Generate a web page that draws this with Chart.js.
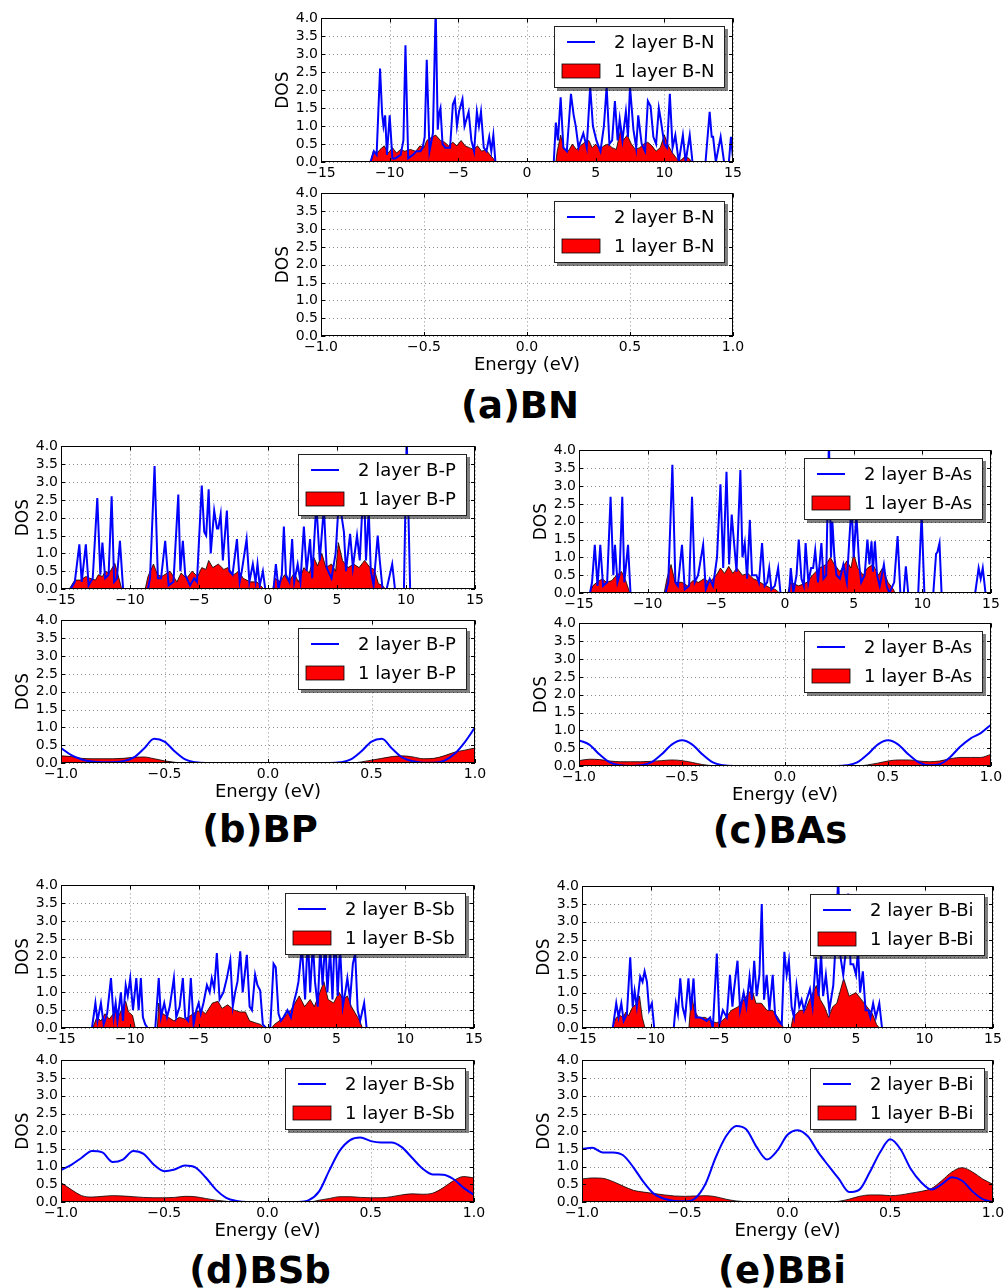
<!DOCTYPE html>
<html>
<head>
<meta charset="utf-8">
<script src="https://cdn.jsdelivr.net/npm/chart.js@4.4.0/dist/chart.umd.min.js"></script>
<style>
  body { margin: 0; background: #fff; width: 1007px; height: 1288px; position: relative; overflow: hidden; font-family: 'DejaVu Sans', sans-serif; }
  .panel { position: absolute; }
  .tag { position: absolute; font-weight: bold; font-size: 37px; line-height: 1; transform: translate(-50%, -50%); white-space: nowrap; }
</style>
</head>
<body>
<div class="tag" style="left:520px; top:405px;">(a)BN</div>
<div class="tag" style="left:260px; top:829px;">(b)BP</div>
<div class="tag" style="left:780px; top:830px;">(c)BAs</div>
<div class="tag" style="left:260px; top:1270px;">(d)BSb</div>
<div class="tag" style="left:782px; top:1270px;">(e)BBi</div>
<script>
'use strict';

/******************** */
// wide energy window (-15 .. 15 eV)

const bn2E = [-15, -11.4, -11.15, -10.95, -10.7, -10.55, -10.45, -10.33, -10.2, -10.0,
    -9.8, -9.6, -9.2, -9.0, -8.85, -8.65, -8.3, -8.05, -7.75, -7.6,
    -7.45, -7.3, -7.1, -6.85, -6.65, -6.5, -6.4, -6.3, -6.15, -5.95,
    -5.6, -5.4, -5.25, -5.1, -4.95, -4.7, -4.55, -4.4, -4.25, -4.05,
    -3.85, -3.65, -3.5, -3.35, -3.15, -2.95, -2.75, -2.6, -2.45, -2.3,
    1.95, 2.1, 2.25, 2.45, 2.65, 2.9, 3.2, 3.4, 3.55, 3.75,
    4.1, 4.35, 4.6, 4.8, 5.05, 5.35, 5.6, 5.8, 6.0, 6.2,
    6.4, 6.6, 6.75, 6.95, 7.2, 7.35, 7.5, 7.75, 7.95, 8.1,
    8.35, 8.6, 8.8, 9.0, 9.2, 9.4, 9.6, 9.75, 10.0, 10.2,
    10.4, 10.6, 10.8, 11.05, 11.35, 11.55, 11.85, 12.05, 13.0, 13.3,
    13.45, 13.55, 13.75, 14.1, 14.35, 14.7, 14.85, 15];
const bn2Dos = [0, 0, 0.3, 0.2, 2.6, 1.35, 1.0, 1.3, 0.2, 1.3,
    0.1, 0.1, 0.2, 0.6, 3.25, 0.1, 0.2, 0.3, 0.3, 0.4,
    0.7, 2.85, 0.3, 0.8, 4.3, 0.9, 1.35, 1.5, 0.5, 0.4,
    0.4, 1.6, 1.75, 1.0, 1.4, 1.75, 1.0, 1.2, 1.4, 0.6,
    0.3, 1.4, 1.0, 1.4, 0.4, 0.3, 0.7, 0.3, 0.75, 0,
    0, 1.1, 0.6, 1.8, 0.4, 0.3, 1.9, 1.3, 1.0, 0.4,
    0.8, 0.4, 2.1, 1.0, 0.6, 0.3, 1.0, 2.1, 0.5, 0.6,
    1.7, 0.6, 1.2, 0.6, 1.4, 0.7, 2.1, 0.9, 0.4, 1.3,
    0.5, 0.3, 1.7, 1.55, 0.7, 0.5, 1.5, 1.15, 0.5, 0.4,
    1.9, 0.4, 0.75, 0, 0.75, 0, 0.75, 0, 0, 1.4,
    0.7, 0.7, 0, 0.7, 0, 0, 0.7, 0.1];
const bn1E = [-15, -11.35, -11.2, -10.9, -10.7, -10.4, -10.1, -9.8, -9.5, -9.2,
    -8.9, -8.5, -8.1, -7.8, -7.5, -7.3, -6.9, -6.65, -6.3, -6.0,
    -5.7, -5.4, -5.1, -4.8, -4.5, -4.2, -3.9, -3.6, -3.3, -3.0,
    -2.7, -2.45, -2.3, 2.1, 2.2, 2.45, 2.7, 3.0, 3.3, 3.6,
    3.9, 4.2, 4.5, 4.75, 5.0, 5.3, 5.6, 5.9, 6.2, 6.5,
    6.85, 7.0, 7.3, 7.6, 7.9, 8.2, 8.5, 8.8, 9.1, 9.4,
    9.7, 10.0, 10.3, 10.6, 10.9, 11.2, 11.5, 11.8, 12.0, 15];
const bn1Dos = [0, 0, 0.3, 0.25, 0.35, 0.45, 0.25, 0.4, 0.25, 0.35,
    0.3, 0.35, 0.3, 0.45, 0.4, 0.6, 0.7, 0.75, 0.6, 0.55,
    0.45, 0.55, 0.45, 0.6, 0.45, 0.4, 0.35, 0.45, 0.3, 0.35,
    0.2, 0.1, 0, 0, 0.3, 0.75, 0.35, 0.3, 0.5, 0.35,
    0.45, 0.55, 0.6, 0.4, 0.5, 0.35, 0.45, 0.5, 0.4, 0.35,
    0.95, 0.6, 0.75, 0.5, 0.35, 0.4, 0.5, 0.55, 0.45, 0.3,
    0.4, 0.75, 0.45, 0.25, 0.1, 0.05, 0.15, 0.1, 0, 0];

const bp2E = [-15, -14.3, -14.0, -13.67, -13.5, -13.2, -13.0, -12.7, -12.37, -12.15,
    -12.0, -11.8, -11.55, -11.33, -11.15, -10.95, -10.73, -10.5, -8.7, -8.55,
    -8.22, -7.98, -7.75, -7.45, -7.2, -6.85, -6.5, -6.35, -6.17, -6.0,
    -5.65, -5.35, -5.15, -4.8, -4.62, -4.48, -4.3, -4.15, -3.9, -3.7,
    -3.6, -3.43, -3.27, -2.98, -2.8, -2.57, -2.25, -2.05, -1.9, -1.55,
    -1.35, -1.1, -0.9, -0.76, -0.6, -0.37, -0.2, 0.4, 0.57, 0.76,
    1.0, 1.15, 1.3, 1.55, 1.75, 1.9, 2.15, 2.35, 2.6, 2.8,
    3.05, 3.2, 3.5, 3.75, 4.05, 4.25, 4.6, 4.9, 5.15, 5.35,
    5.5, 5.65, 5.95, 6.15, 6.45, 6.65, 6.8, 7.0, 7.1, 7.3,
    7.45, 7.65, 7.95, 8.1, 8.3, 8.6, 9.0, 9.2, 9.85, 10.05,
    10.3, 15];
const bp2Dos = [0, 0, 0.2, 1.25, 0.2, 1.25, 0.1, 0.3, 2.55, 0.4,
    1.3, 0.3, 0.4, 2.6, 0.2, 0.3, 1.35, 0, 0, 0.3,
    3.45, 0.3, 0.3, 1.35, 0.1, 0.2, 2.65, 0.5, 1.35, 0.4,
    0.1, 0.3, 0.2, 2.9, 1.6, 1.5, 2.8, 1.0, 2.2, 1.7,
    1.7, 2.1, 0.8, 2.2, 0.5, 0.4, 1.4, 0.2, 0.5, 1.4,
    0.2, 0.7, 0.2, 0.7, 0.1, 0.5, 0, 0, 0.7, 0,
    0.4, 1.75, 0.4, 0.2, 1.4, 0.2, 0.7, 0.2, 1.75, 0.5,
    1.4, 0.3, 2.4, 0.8, 2.3, 0.6, 0.3, 1.0, 2.6, 2.0,
    1.6, 0.5, 1.55, 0.6, 1.5, 0.8, 2.0, 2.3, 0.8, 2.2,
    0.5, 0.1, 1.5, 0.8, 0, 0, 0.7, 0, 0, 4.3,
    0, 0];
const bp1E = [-15, -14.4, -14.0, -13.6, -13.2, -12.9, -12.5, -12.3, -12.0, -11.8,
    -11.5, -11.1, -10.8, -10.6, -8.9, -8.7, -8.3, -8.0, -7.7, -7.1,
    -6.6, -6.3, -5.9, -5.5, -5.1, -4.8, -4.5, -4.3, -4.0, -3.6,
    -3.2, -2.9, -2.5, -2.1, -1.8, -1.3, -0.8, -0.3, 0.35, 0.5,
    0.9, 1.2, 1.5, 1.9, 2.2, 2.6, 3.0, 3.3, 3.6, 3.9,
    4.2, 4.6, 4.9, 5.1, 5.4, 5.8, 6.2, 6.6, 7.0, 7.4,
    7.7, 8.0, 8.3, 8.5, 15];
const bp1Dos = [0, 0, 0.25, 0.25, 0.35, 0.3, 0.25, 0.4, 0.35, 0.5,
    0.45, 0.72, 0.3, 0, 0, 0.35, 0.7, 0.4, 0.35, 0.5,
    0.2, 0.45, 0.3, 0.5, 0.35, 0.6, 0.55, 0.8, 0.6, 0.7,
    0.55, 0.6, 0.4, 0.5, 0.3, 0.2, 0.2, 0, 0, 0.3,
    0.2, 0.4, 0.2, 0.45, 0.2, 0.6, 0.45, 0.9, 0.65, 1.0,
    0.6, 0.7, 0.5, 1.3, 0.8, 0.6, 0.7, 0.6, 0.8, 0.6,
    0.55, 0.15, 0.1, 0, 0];

const bas2E = [-15, -14.2, -14.05, -13.85, -13.65, -13.45, -13.25, -12.95, -12.7, -12.5,
    -12.38, -12.2, -12.05, -11.85, -11.7, -11.43, -11.25, -8.7, -8.5, -8.2,
    -7.98, -7.8, -7.5, -7.3, -6.98, -6.77, -6.57, -6.33, -5.96, -5.77,
    -5.48, -5.24, -4.95, -4.7, -4.5, -4.26, -4.07, -3.88, -3.73, -3.53,
    -3.25, -3.1, -2.93, -2.76, -2.56, -2.4, -2.08, -1.9, -1.67, -1.48,
    -1.3, -1.15, -0.99, -0.74, -0.5, -0.33, 0.3, 0.42, 0.6, 0.84,
    1.0, 1.2, 1.37, 1.5, 1.7, 1.9, 2.05, 2.2, 2.4, 2.65,
    2.8, 3.0, 3.2, 3.35, 3.45, 3.6, 3.75, 4.0, 4.25, 4.5,
    4.7, 4.85, 5.0, 5.2, 5.4, 5.55, 5.8, 6.0, 6.15, 6.3,
    6.4, 6.55, 6.7, 6.9, 7.2, 7.4, 7.6, 7.95, 8.2, 8.4,
    8.65, 8.8, 8.97, 9.7, 9.95, 10.15, 10.8, 11.0, 11.1, 11.25,
    11.4, 13.85, 14.1, 14.25, 14.4, 14.6, 15];
const bas2Dos = [0, 0, 0.3, 1.35, 0.2, 1.35, 0.2, 0.3, 2.7, 0.5,
    1.35, 0.3, 0.5, 2.7, 0.3, 1.35, 0, 0, 0.3, 3.6,
    0.3, 0.2, 1.35, 0.1, 0.2, 2.7, 0.3, 0.5, 1.35, 0.1,
    0.4, 0.2, 1.0, 3.05, 0.7, 3.4, 0.8, 2.2, 1.5, 0.6,
    3.45, 1.0, 1.4, 0.4, 2.05, 0.5, 0.5, 0.3, 1.4, 0.2,
    0.3, 0.7, 0.1, 0.2, 0.7, 0, 0, 0.7, 0, 0.5,
    1.5, 0.4, 0.2, 1.4, 0.3, 0.7, 0.7, 1.2, 0.3, 1.4,
    0.4, 0.5, 4.3, 1.0, 2.0, 1.0, 0.5, 0.4, 0.8, 0.3,
    1.6, 2.5, 1.0, 2.2, 0.8, 0.3, 0.5, 1.5, 0.8, 1.45,
    0.6, 1.45, 0.5, 0.2, 0.8, 0.2, 0, 0.3, 1.6, 0,
    0, 0.75, 0, 0, 2.2, 0, 0, 1.1, 1.15, 1.4,
    0, 0, 0.7, 0.4, 0.7, 0, 0];
const bas1E = [-15, -14.2, -14.0, -13.7, -13.3, -13.0, -12.6, -12.4, -11.9, -11.6,
    -11.3, -8.8, -8.6, -8.3, -8.0, -7.5, -7.1, -6.7, -6.3, -5.9,
    -5.5, -5.0, -4.7, -4.4, -4.1, -3.8, -3.5, -3.1, -2.7, -2.3,
    -2.0, -1.6, -1.1, -0.7, -0.4, 0.2, 0.4, 1.0, 1.6, 2.0,
    2.5, 3.0, 3.3, 3.6, 4.0, 4.5, 4.8, 5.0, 5.3, 5.7,
    6.0, 6.4, 6.8, 7.1, 7.5, 7.9, 8.0, 15];
const bas1Dos = [0, 0, 0.2, 0.3, 0.4, 0.3, 0.35, 0.45, 0.6, 0.35,
    0, 0, 0.4, 0.8, 0.3, 0.3, 0.2, 0.35, 0.3, 0.4,
    0.3, 0.5, 0.7, 0.55, 0.75, 0.55, 0.7, 0.5, 0.55, 0.4,
    0.35, 0.25, 0.15, 0.1, 0, 0, 0.3, 0.2, 0.3, 0.5,
    0.7, 0.8, 1.0, 0.8, 0.6, 0.9, 0.7, 1.1, 0.7, 0.5,
    0.7, 0.8, 0.5, 0.7, 0.3, 0.1, 0, 0];

const bsb2E = [-15, -12.75, -12.5, -12.35, -12.1, -11.9, -11.65, -11.37, -11.18, -11.03,
    -10.9, -10.65, -10.5, -10.3, -10.15, -9.97, -9.77, -9.53, -9.36, -9.2,
    -9.05, -8.88, -8.7, -8.15, -7.9, -7.74, -7.5, -7.3, -7.1, -6.8,
    -6.63, -6.38, -6.15, -5.98, -5.76, -5.57, -5.37, -5.17, -5.0, -4.85,
    -4.65, -4.4, -4.2, -4.05, -3.87, -3.68, -3.48, -3.2, -2.95, -2.7,
    -2.52, -2.35, -2.18, -1.98, -1.8, -1.5, -1.3, -1.13, -0.9, -0.73,
    -0.53, -0.34, -0.1, 0.2, 0.44, 0.6, 0.8, 0.97, 1.16, 1.45,
    1.7, 1.9, 2.1, 2.25, 2.5, 2.73, 2.93, 3.1, 3.3, 3.45,
    3.65, 3.83, 4.0, 4.2, 4.35, 4.55, 4.72, 4.9, 5.1, 5.27,
    5.47, 5.65, 5.8, 6.0, 6.2, 6.37, 6.55, 6.73, 7.02, 7.2,
    15];
const bsb2Dos = [0, 0, 0.7, 0.2, 0.7, 0.1, 0.4, 1.4, 0.3, 0.7,
    0.2, 1.0, 0.2, 1.2, 0.9, 1.4, 0.5, 1.4, 0.5, 1.4,
    0.3, 0.1, 0, 0, 1.4, 0.3, 0.7, 0.3, 0.6, 1.4,
    0.3, 0.6, 1.4, 0.3, 0.2, 1.4, 0.1, 0.5, 0.7, 0.4,
    0.7, 1.2, 1.0, 1.4, 1.1, 2.1, 0.8, 1.0, 1.4, 1.9,
    0.6, 1.0, 1.3, 2.15, 1.0, 2.05, 0.6, 0.5, 1.5, 1.2,
    1.05, 0.1, 0, 0, 1.8, 1.7, 0.4, 0.2, 0.3, 0.5,
    0.3, 0.7, 1.0, 1.3, 2.3, 0.8, 2.6, 1.0, 2.4, 1.3,
    0.6, 2.3, 1.2, 2.5, 1.0, 2.2, 0.8, 2.8, 0.9, 2.3,
    0.6, 1.0, 1.4, 0.8, 1.8, 2.1, 0.5, 0.2, 0.7, 0,
    0];
const bsb1E = [-15, -12.7, -12.4, -12.1, -11.8, -11.5, -11.2, -11.0, -10.8, -10.5,
    -10.3, -10.1, -9.8, -9.6, -8.0, -7.9, -7.6, -7.2, -6.8, -6.4,
    -6.0, -5.6, -5.2, -4.8, -4.5, -4.0, -3.6, -3.3, -2.9, -2.4,
    -2.0, -1.6, -1.3, -0.9, -0.5, -0.2, 0.3, 0.5, 1.2, 1.7,
    2.0, 2.3, 2.7, 3.1, 3.4, 3.8, 4.1, 4.4, 4.8, 5.2,
    5.5, 5.8, 6.1, 6.4, 6.7, 6.9, 15];
const bsb1Dos = [0, 0, 0.3, 0.2, 0.4, 0.25, 0.4, 0.6, 0.35, 0.6,
    0.75, 0.45, 0.35, 0, 0, 0.7, 0.4, 0.3, 0.2, 0.3,
    0.25, 0.35, 0.45, 0.5, 0.4, 0.7, 0.75, 0.55, 0.65, 0.5,
    0.45, 0.45, 0.2, 0.15, 0.1, 0, 0, 0.1, 0.3, 0.5,
    0.7, 0.9, 0.6, 0.8, 0.6, 1.0, 1.3, 0.8, 0.7, 1.0,
    0.8, 0.9, 0.6, 0.4, 0.2, 0, 0];

const bbi2E = [-15, -12.75, -12.5, -12.33, -12.13, -11.96, -11.72, -11.48, -11.3, -11.16,
    -11.0, -10.75, -10.58, -10.43, -10.26, -10.1, -9.9, -9.73, -8.3, -8.15,
    -8.0, -7.83, -7.66, -7.47, -7.23, -7.06, -6.86, -6.7, -6.38, -6.13,
    -5.9, -5.65, -5.45, -5.16, -4.97, -4.72, -4.43, -4.2, -4.02, -3.9,
    -3.65, -3.46, -3.2, -3.0, -2.77, -2.6, -2.43, -2.25, -2.05, -1.88,
    -1.71, -1.52, -1.32, -1.08, -0.91, -0.67, -0.42, -0.23, -0.06, 0.1,
    0.3, 0.47, 0.66, 0.86, 1.03, 1.2, 1.4, 1.64, 1.83, 2.07,
    2.27, 2.45, 2.6, 2.8, 3.05, 3.34, 3.53, 3.7, 3.87, 4.07,
    4.26, 4.43, 4.6, 4.8, 5.0, 5.15, 5.3, 5.5, 5.7, 5.9,
    6.05, 6.25, 6.45, 6.7, 6.9, 7.2, 15];
const bbi2Dos = [0, 0, 0.7, 0.3, 0.7, 0.2, 0.4, 2.0, 0.6, 1.05,
    0.6, 1.45, 1.3, 1.6, 1.3, 0.5, 0.7, 0, 0, 0.7,
    0.4, 1.4, 0.6, 0.3, 1.4, 0.5, 1.4, 0.3, 0.3, 0.25,
    0.2, 0.3, 0, 2.1, 0.1, 0.5, 0.3, 1.5, 0.6, 1.1,
    1.9, 0.5, 1.0, 0.6, 1.45, 0.8, 1.9, 0.9, 1.5, 3.5,
    0.8, 1.5, 0.5, 1.5, 0.4, 0.2, 0.1, 2.15, 1.5, 1.9,
    0.6, 0.3, 1.2, 0.6, 0.8, 0.5, 0.8, 1.1, 0.6, 2.0,
    0.9, 2.1, 0.9, 1.5, 0.5, 1.2, 2.5, 4.3, 2.0, 1.5,
    2.2, 3.8, 1.8, 1.8, 1.5, 2.2, 1.0, 1.6, 0.5, 0.5,
    0.3, 0.7, 0.3, 0.7, 0, 0, 0];
const bbi1E = [-15, -12.8, -12.5, -12.2, -12.0, -11.8, -11.6, -11.3, -11.1, -10.9,
    -10.8, -10.6, -10.4, -7.2, -7.0, -6.8, -6.5, -6.0, -5.6, -5.2,
    -4.8, -4.5, -4.1, -3.6, -3.2, -2.6, -2.3, -1.9, -1.5, -1.1,
    -0.7, -0.4, -0.3, 0.25, 0.4, 0.9, 1.3, 1.6, 2.1, 2.4,
    2.7, 3.0, 3.3, 3.6, 4.1, 4.5, 5.0, 5.4, 5.8, 6.2,
    6.5, 6.7, 15];
const bbi1Dos = [0, 0, 0.3, 0.35, 0.3, 0.45, 0.35, 0.6, 0.65, 0.8,
    0.9, 0.3, 0, 0, 0.95, 0.5, 0.3, 0.3, 0.2, 0.15,
    0.2, 0.3, 0.5, 0.6, 0.8, 1.1, 0.7, 0.7, 0.5, 0.5,
    0.3, 0.1, 0, 0, 0.3, 0.5, 0.5, 0.8, 1.2, 0.8,
    0.6, 0.3, 0.6, 0.7, 1.4, 0.9, 1.0, 0.8, 0.6, 0.4,
    0.1, 0, 0];

/******************** */
// narrow energy window (-1 .. 1 eV)

const eZoom = [-1.0, -0.95, -0.9, -0.85, -0.8, -0.75, -0.7, -0.65, -0.6, -0.55,
    -0.5, -0.45, -0.4, -0.35, -0.3, -0.25, -0.2, -0.15, -0.1, -0.05,
    0.0, 0.05, 0.1, 0.15, 0.2, 0.25, 0.3, 0.35, 0.4, 0.45,
    0.5, 0.55, 0.6, 0.65, 0.7, 0.75, 0.8, 0.85, 0.9, 0.95,
    1.0];

const bnZoomE = [-1.0, 1.0];
const bn2Zoom = [0, 0];
const bn1Zoom = [0, 0];

const bp2Zoom = [0.42, 0.22, 0.1, 0.04, 0.02, 0.02, 0.05, 0.15, 0.4, 0.68,
    0.6, 0.32, 0.1, 0.02, 0, 0, 0, 0, 0, 0,
    0, 0, 0, 0, 0, 0, 0, 0.02, 0.1, 0.32,
    0.6, 0.68, 0.4, 0.15, 0.05, 0.01, 0.01, 0.06, 0.25, 0.58,
    1.0];
const bp1Zoom = [0.2, 0.18, 0.13, 0.12, 0.12, 0.12, 0.13, 0.16, 0.17, 0.12,
    0.06, 0.02, 0, 0, 0, 0, 0, 0, 0, 0,
    0, 0, 0, 0, 0, 0, 0, 0, 0, 0.03,
    0.08, 0.13, 0.18, 0.2, 0.17, 0.12, 0.13, 0.2, 0.3, 0.36,
    0.42];

const bas2Zoom = [0.72, 0.6, 0.32, 0.1, 0.02, 0, 0.02, 0.1, 0.32, 0.6,
    0.72, 0.6, 0.32, 0.1, 0.02, 0, 0, 0, 0, 0,
    0, 0, 0, 0, 0, 0, 0.02, 0.1, 0.32, 0.6,
    0.72, 0.6, 0.32, 0.1, 0.02, 0.05, 0.24, 0.54, 0.77, 0.92,
    1.16];
const bas1Zoom = [0.15, 0.19, 0.18, 0.14, 0.12, 0.12, 0.12, 0.13, 0.15, 0.17,
    0.15, 0.1, 0.04, 0.01, 0, 0, 0, 0, 0, 0,
    0, 0, 0, 0, 0, 0, 0, 0, 0.03, 0.08,
    0.14, 0.17, 0.17, 0.14, 0.12, 0.14, 0.2, 0.24, 0.24, 0.24,
    0.33];

const bsb2Zoom = [0.9, 1.05, 1.25, 1.44, 1.4, 1.13, 1.2, 1.44, 1.36, 1.05,
    0.87, 0.92, 1.03, 0.98, 0.7, 0.35, 0.12, 0.03, 0, 0,
    0, 0, 0, 0, 0.05, 0.3, 0.9, 1.45, 1.75, 1.82,
    1.72, 1.68, 1.68, 1.55, 1.25, 0.95, 0.78, 0.77, 0.65, 0.4,
    0.2];
const bsb1Zoom = [0.55, 0.35, 0.18, 0.14, 0.16, 0.18, 0.17, 0.15, 0.13, 0.12,
    0.12, 0.13, 0.16, 0.15, 0.1, 0.05, 0.02, 0, 0, 0,
    0, 0, 0, 0, 0, 0.05, 0.1, 0.15, 0.15, 0.13,
    0.12, 0.12, 0.15, 0.2, 0.23, 0.22, 0.25, 0.4, 0.6, 0.72,
    0.68];

const bbi2Zoom = [1.5, 1.53, 1.4, 1.4, 1.32, 0.98, 0.56, 0.23, 0.09, 0.03,
    0.02, 0.1, 0.5, 1.25, 1.85, 2.15, 2.05, 1.55, 1.2, 1.45,
    1.9, 2.03, 1.85, 1.4, 1.02, 0.65, 0.28, 0.35, 0.84, 1.4,
    1.77, 1.49, 0.93, 0.56, 0.35, 0.5, 0.7, 0.6, 0.3, 0.08,
    0.0];
const bbi1Zoom = [0.65, 0.68, 0.67, 0.58, 0.45, 0.33, 0.28, 0.24, 0.2, 0.17,
    0.16, 0.17, 0.18, 0.15, 0.08, 0.03, 0.01, 0, 0, 0,
    0, 0, 0, 0, 0, 0.02, 0.08, 0.16, 0.2, 0.2,
    0.18, 0.2, 0.25, 0.3, 0.38, 0.6, 0.85, 0.97, 0.85, 0.65,
    0.5];

/******************** */
// panels: plot-area box in page pixels

const panels = [
    { name: 'B-N', wide: true, left: 321, top: 17, right: 733, bottom: 162, e2: bn2E, d2: bn2Dos, e1: bn1E, d1: bn1Dos },
    { name: 'B-N', wide: false, left: 321, top: 192, right: 733, bottom: 336, e2: bnZoomE, d2: bn2Zoom, e1: bnZoomE, d1: bn1Zoom },
    { name: 'B-P', wide: true, left: 61, top: 445, right: 475, bottom: 589, e2: bp2E, d2: bp2Dos, e1: bp1E, d1: bp1Dos },
    { name: 'B-P', wide: false, left: 61, top: 619, right: 475, bottom: 763, e2: eZoom, d2: bp2Zoom, e1: eZoom, d1: bp1Zoom },
    { name: 'B-As', wide: true, left: 579, top: 449, right: 991, bottom: 593, e2: bas2E, d2: bas2Dos, e1: bas1E, d1: bas1Dos },
    { name: 'B-As', wide: false, left: 579, top: 622, right: 991, bottom: 766, e2: eZoom, d2: bas2Zoom, e1: eZoom, d1: bas1Zoom },
    { name: 'B-Sb', wide: true, left: 61, top: 884, right: 474, bottom: 1028, e2: bsb2E, d2: bsb2Dos, e1: bsb1E, d1: bsb1Dos },
    { name: 'B-Sb', wide: false, left: 61, top: 1059, right: 474, bottom: 1202, e2: eZoom, d2: bsb2Zoom, e1: eZoom, d1: bsb1Zoom },
    { name: 'B-Bi', wide: true, left: 582, top: 885, right: 993, bottom: 1028, e2: bbi2E, d2: bbi2Dos, e1: bbi1E, d1: bbi1Dos },
    { name: 'B-Bi', wide: false, left: 582, top: 1059, right: 993, bottom: 1202, e2: eZoom, d2: bbi2Zoom, e1: eZoom, d1: bbi1Zoom },
];

Chart.defaults.font.family = "'DejaVu Sans', sans-serif";
Chart.defaults.color = '#000';

const AXIS_W = 60;
const PAD_TOP = 10;
const PAD_RIGHT = 24;

const minus = s => String(s).replace('-', '\u2212');

const toPoints = (xs, ys) => xs.map((x, i) => ({ x: x, y: ys[i] }));

// dotted grid, frame and inward ticks like the old matplotlib style
const framePlugin = {
    id: 'frame',
    beforeDatasetsDraw(chart) {
        const { ctx, chartArea: a, scales } = chart;
        ctx.save();
        ctx.strokeStyle = 'rgba(0,0,0,0.45)';
        ctx.lineWidth = 1;
        ctx.setLineDash([1, 3]);
        ctx.beginPath();
        scales.x.ticks.forEach(t => {
            const px = Math.round(scales.x.getPixelForValue(t.value)) + 0.5;
            ctx.moveTo(px, a.top);
            ctx.lineTo(px, a.bottom);
        });
        scales.y.ticks.forEach(t => {
            const py = Math.round(scales.y.getPixelForValue(t.value)) + 0.5;
            ctx.moveTo(a.left, py);
            ctx.lineTo(a.right, py);
        });
        ctx.stroke();
        ctx.restore();
    },
    afterDatasetsDraw(chart) {
        const { ctx, chartArea: a, scales } = chart;
        ctx.save();
        ctx.strokeStyle = '#000';
        ctx.lineWidth = 1;
        ctx.beginPath();
        scales.x.ticks.forEach(t => {
            const px = Math.round(scales.x.getPixelForValue(t.value)) + 0.5;
            ctx.moveTo(px, a.bottom);
            ctx.lineTo(px, a.bottom - 4);
            ctx.moveTo(px, a.top);
            ctx.lineTo(px, a.top + 4);
        });
        scales.y.ticks.forEach(t => {
            const py = Math.round(scales.y.getPixelForValue(t.value)) + 0.5;
            ctx.moveTo(a.left, py);
            ctx.lineTo(a.left + 4, py);
            ctx.moveTo(a.right, py);
            ctx.lineTo(a.right - 4, py);
        });
        ctx.stroke();
        ctx.strokeRect(Math.round(a.left) + 0.5, Math.round(a.top) + 0.5, Math.round(a.width) - 1, Math.round(a.height) - 1);
        ctx.restore();
    },
};

// legend box in the upper right corner with a drop shadow
const boxLegend = {
    id: 'boxLegend',
    afterDraw(chart) {
        const { ctx, chartArea: a } = chart;
        const sets = chart.data.datasets;
        ctx.save();
        ctx.font = "18px 'DejaVu Sans'";
        const textW = Math.max(...sets.map(s => ctx.measureText(s.label).width));
        const w = Math.round(textW + 71);
        const h = 62;
        const x0 = Math.round(a.right - 8 - w);
        const y0 = Math.round(a.top + 8);
        ctx.fillStyle = 'rgba(0,0,0,0.5)';
        ctx.fillRect(x0 + 3, y0 + 3, w, h);
        ctx.fillStyle = '#fff';
        ctx.fillRect(x0, y0, w, h);
        ctx.strokeStyle = '#222';
        ctx.lineWidth = 1;
        ctx.strokeRect(x0 + 0.5, y0 + 0.5, w - 1, h - 1);

        ctx.strokeStyle = sets[0].borderColor;
        ctx.lineWidth = 2;
        ctx.beginPath();
        ctx.moveTo(x0 + 13, y0 + 16);
        ctx.lineTo(x0 + 41, y0 + 16);
        ctx.stroke();

        ctx.fillStyle = sets[1].backgroundColor;
        ctx.fillRect(x0 + 8, y0 + 38, 38, 14);
        ctx.strokeStyle = '#000';
        ctx.lineWidth = 0.8;
        ctx.strokeRect(x0 + 8, y0 + 38, 38, 14);

        ctx.fillStyle = '#000';
        ctx.textAlign = 'left';
        ctx.textBaseline = 'middle';
        ctx.fillText(sets[0].label, x0 + 60, y0 + 17);
        ctx.fillText(sets[1].label, x0 + 60, y0 + 46);
        ctx.restore();
    },
};

const makeChart = function (p) {
    const bottomH = p.wide ? 24 : 42;
    const W = p.right - p.left + AXIS_W + PAD_RIGHT;
    const H = p.bottom - p.top + PAD_TOP + bottomH;
    const box = document.createElement('div');
    box.className = 'panel';
    box.style.left = `${p.left - AXIS_W}px`;
    box.style.top = `${p.top - PAD_TOP}px`;
    const canvas = document.createElement('canvas');
    canvas.width = W;
    canvas.height = H;
    canvas.style.width = `${W}px`;
    canvas.style.height = `${H}px`;
    box.appendChild(canvas);
    document.body.appendChild(box);

    const smooth = p.wide ? 'default' : 'monotone';

    new Chart(canvas.getContext('2d'), {
        type: 'line',
        data: {
            datasets: [
                {
                    label: `2 layer ${p.name}`,
                    data: toPoints(p.e2, p.d2),
                    borderColor: '#0000ff',
                    borderWidth: 2,
                    pointRadius: 0,
                    fill: false,
                    tension: 0,
                    cubicInterpolationMode: smooth,
                },
                {
                    label: `1 layer ${p.name}`,
                    data: toPoints(p.e1, p.d1),
                    borderColor: '#000',
                    borderWidth: 0.8,
                    backgroundColor: '#ff0000',
                    fill: 'origin',
                    pointRadius: 0,
                    tension: 0,
                    cubicInterpolationMode: smooth,
                },
            ],
        },
        options: {
            responsive: false,
            animation: false,
            events: [],
            layout: { padding: { top: PAD_TOP, right: PAD_RIGHT, left: 0, bottom: 0 } },
            plugins: { legend: { display: false }, tooltip: { enabled: false } },
            scales: {
                x: {
                    type: 'linear',
                    min: p.wide ? -15 : -1,
                    max: p.wide ? 15 : 1,
                    ticks: {
                        stepSize: p.wide ? 5 : 0.5,
                        autoSkip: false,
                        maxRotation: 0,
                        padding: 3,
                        font: { size: 14 },
                        callback: v => minus(p.wide ? v : v.toFixed(1)),
                    },
                    grid: { display: false, drawTicks: false },
                    border: { display: false },
                    title: {
                        display: !p.wide,
                        text: 'Energy (eV)',
                        font: { size: 18 },
                        padding: { top: 0, bottom: 2 },
                    },
                    afterFit: s => { s.height = bottomH; },
                },
                y: {
                    min: 0,
                    max: 4,
                    ticks: {
                        stepSize: 0.5,
                        autoSkip: false,
                        padding: 3,
                        font: { size: 14 },
                        callback: v => v.toFixed(1),
                    },
                    grid: { display: false, drawTicks: false },
                    border: { display: false },
                    title: {
                        display: true,
                        text: 'DOS',
                        font: { size: 17 },
                        padding: { top: 12, bottom: 0 },
                    },
                    afterFit: s => { s.width = AXIS_W; },
                },
            },
        },
        plugins: [framePlugin, boxLegend],
    });
};

panels.forEach(makeChart);
</script>
</body>
</html>
